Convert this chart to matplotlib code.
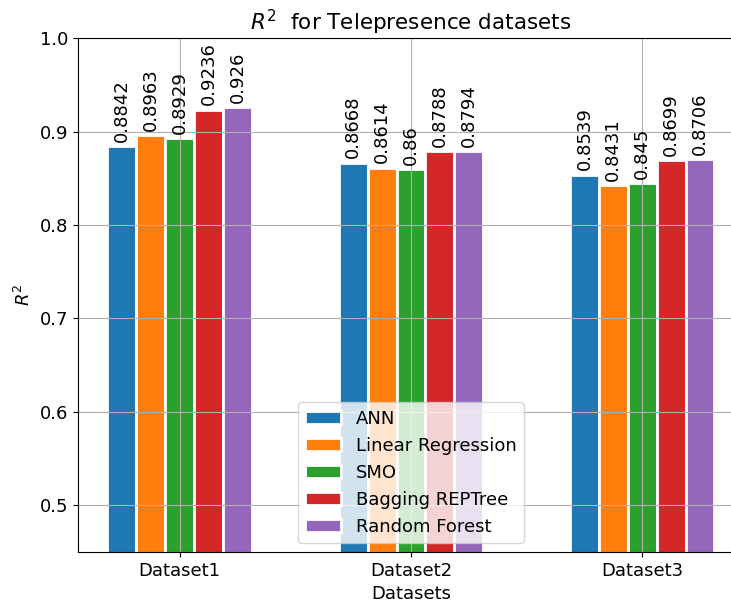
import numpy as np
import matplotlib
matplotlib.use('Agg')
import matplotlib.pyplot as plt

# данные
datasets = ['Dataset1', 'Dataset2', 'Dataset3']
models = ['ANN', 'Linear Regression', 'SMO', 'Bagging REPTree', 'Random Forest']
ann = [0.8842, 0.8668, 0.8539]
linreg = [0.8963, 0.8614, 0.8431]
smo = [0.8929, 0.86, 0.845]
bagging = [0.9236, 0.8788, 0.8699]
rforest = [0.926, 0.8794, 0.8706]

series = [ann, linreg, smo, bagging, rforest]
colors = ['#1f77b4', '#ff7f0e', '#2ca02c', '#d62728', '#9467bd']

plt.rcParams['font.size'] = 13

fig = plt.figure(figsize=(7.31, 6.06), dpi=100)
ax = fig.add_axes([0.1067, 0.0891, 0.911, 0.848])

x = np.arange(len(datasets))
width = 0.125
for i, (vals, name) in enumerate(zip(series, models)):
    bars = ax.bar(x + (i - 2) * width, vals, width, label=name, color=colors[i],
                  edgecolor='white', linewidth=2)
    ax.bar_label(bars, labels=[str(v) for v in vals], rotation=90, padding=3, fontsize=13)

ax.set_ylim(0.45, 1.0)
ax.set_xlim(-0.44, 2.44)
ax.set_xticks(x)
ax.set_xticklabels(datasets)
ax.set_xlabel('Datasets')
ax.set_ylabel('$R^2$')
ax.set_title('$R^2$  for Telepresence datasets', fontsize=15.5)
ax.grid(True)
ax.legend(loc='lower center')

fig.savefig('out.png', dpi=100)
